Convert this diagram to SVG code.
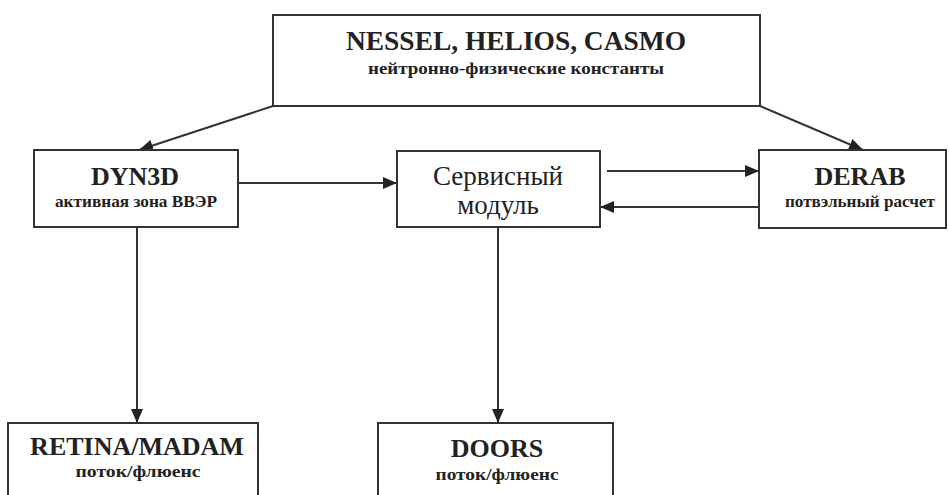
<svg xmlns="http://www.w3.org/2000/svg" width="949" height="495" viewBox="0 0 949 495">
<style>
.box{fill:#fff;stroke:#333;stroke-width:2}
.t{font-family:"Liberation Serif","Times New Roman",serif;fill:#222;text-anchor:middle}
.b{font-weight:bold}
.big{font-size:26px}
.sm{font-size:16px}
.reg{font-size:27px}
.ln{stroke:#333;stroke-width:2;fill:none}
</style>
<defs>
<marker id="ah" viewBox="0 0 14 12" refX="14" refY="6" markerWidth="14" markerHeight="12" markerUnits="userSpaceOnUse" orient="auto">
<path d="M0,0 L14,6 L0,12 Z" fill="#222"/>
</marker>
</defs>
<rect width="949" height="495" fill="#fff"/>
<g id="connectors">
<line class="ln" x1="273" y1="106" x2="139" y2="150" marker-end="url(#ah)"/>
<line class="ln" x1="760" y1="106" x2="863" y2="150" marker-end="url(#ah)"/>
<line class="ln" x1="238" y1="183" x2="397" y2="183" marker-end="url(#ah)"/>
<line class="ln" x1="607" y1="171" x2="759" y2="171" marker-end="url(#ah)"/>
<line class="ln" x1="759" y1="207" x2="600" y2="207" marker-end="url(#ah)"/>
<line class="ln" x1="137" y1="227" x2="137" y2="423" marker-end="url(#ah)"/>
<line class="ln" x1="498" y1="227" x2="498" y2="423" marker-end="url(#ah)"/>
</g>
<g id="nessel">
<rect class="box" x="273" y="15" width="487" height="91"/>
<text class="t b" style="font-size:27px" x="516" y="50" textLength="340" lengthAdjust="spacingAndGlyphs">NESSEL, HELIOS, CASMO</text>
<text class="t b" style="font-size:17px" x="516" y="74" textLength="296" lengthAdjust="spacingAndGlyphs">нейтронно-физические константы</text>
</g>
<g id="dyn3d">
<rect class="box" x="34" y="150" width="204" height="77"/>
<text class="t b big" x="135" y="185">DYN3D</text>
<text class="t b sm" x="136" y="207" textLength="162" lengthAdjust="spacingAndGlyphs">активная зона ВВЭР</text>
</g>
<g id="service">
<rect class="box" x="397" y="151" width="203" height="76"/>
<text class="t reg" x="498" y="185">Сервисный</text>
<text class="t reg" x="498" y="214">модуль</text>
</g>
<g id="derab">
<rect class="box" x="759" y="150" width="187" height="78"/>
<text class="t b big" x="860" y="185">DERAB</text>
<text class="t b sm" x="860" y="207" textLength="150" lengthAdjust="spacingAndGlyphs">потвэльный расчет</text>
</g>
<g id="retina">
<rect class="box" x="8" y="423" width="250" height="80"/>
<text class="t b big" x="137" y="455">RETINA/MADAM</text>
<text class="t b sm" x="138" y="477" textLength="125" lengthAdjust="spacingAndGlyphs">поток/флюенс</text>
</g>
<g id="doors">
<rect class="box" x="378" y="423" width="235" height="80"/>
<text class="t b big" x="497" y="457">DOORS</text>
<text class="t b sm" x="497" y="480" textLength="123" lengthAdjust="spacingAndGlyphs">поток/флюенс</text>
</g>
</svg>
